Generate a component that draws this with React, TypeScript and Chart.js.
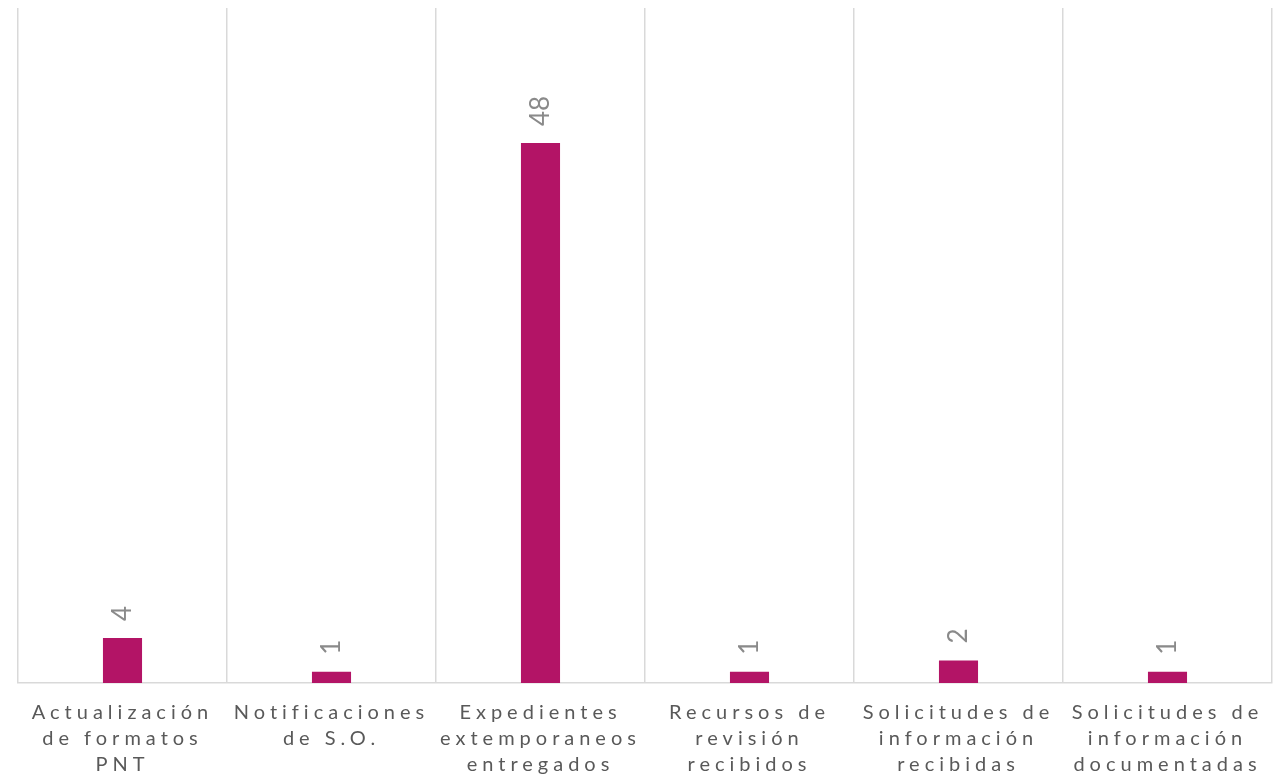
import React, { useEffect, useRef } from "react";
import { Chart, registerables } from "chart.js";

Chart.register(...registerables);

const categories: string[][] = [
  ["Actualización", "de formatos", "PNT"],
  ["Notificaciones", "de S.O."],
  ["Expedientes", "extemporaneos", "entregados"],
  ["Recursos de", "revisión", "recibidos"],
  ["Solicitudes de", "información", "recibidas"],
  ["Solicitudes de", "información", "documentadas"],
];
const values: number[] = [4, 1, 48, 1, 2, 1];

const FONT = "Lato, 'DejaVu Sans', sans-serif";

const spacingPlugin = {
  id: "spacing",
  beforeLayout(chart: any) {
    chart.ctx.letterSpacing = "5px";
  },
  beforeDraw(chart: any) {
    chart.ctx.letterSpacing = "5px";
  },
};

const labelPlugin = {
  id: "barLabels",
  afterDatasetsDraw(chart: any) {
    const ctx = chart.ctx;
    const meta = chart.getDatasetMeta(0);
    ctx.save();
    ctx.letterSpacing = "0px";
    ctx.fillStyle = "#8a8a8a";
    ctx.font = `26px ${FONT}`;
    ctx.textAlign = "left";
    ctx.textBaseline = "middle";
    meta.data.forEach((bar: any, i: number) => {
      ctx.save();
      ctx.translate(bar.x, bar.y - 17);
      ctx.rotate(-Math.PI / 2);
      ctx.fillText(String(values[i]), 0, 0);
      ctx.restore();
    });
    ctx.restore();
  },
};

export default function App() {
  const ref = useRef<HTMLCanvasElement>(null);
  useEffect(() => {
    if (!ref.current) return;
    const chart = new Chart(ref.current, {
      type: "bar",
      data: {
        labels: categories,
        datasets: [
          {
            data: values,
            backgroundColor: "#B31466",
            categoryPercentage: 1,
            barPercentage: 0.187,
          },
        ],
      },
      options: {
        animation: false,
        responsive: true,
        maintainAspectRatio: false,
        layout: { padding: { left: 18, right: 14, top: 8, bottom: 0 } },
        plugins: { legend: { display: false }, tooltip: { enabled: false } },
        scales: {
          x: {
            grid: { color: "#d9d9d9", lineWidth: 1.5, drawTicks: false, offset: true },
            border: { color: "#d9d9d9", width: 1.5 },
            ticks: {
              color: "#595959",
              font: { family: FONT, size: 20, lineHeight: 1.3 },
              padding: 17,
              maxRotation: 0,
              autoSkip: false,
            },
            afterFit(scale: any) {
              scale.height = 91;
            },
          },
          y: {
            display: false,
            min: 0,
            max: 60,
          },
        },
      },
      plugins: [spacingPlugin, labelPlugin],
    });
    return () => chart.destroy();
  }, []);
  return (
    <div style={{ position: "fixed", left: 0, top: 0, width: 1286, height: 774 }}>
      <canvas ref={ref} />
    </div>
  );
}
